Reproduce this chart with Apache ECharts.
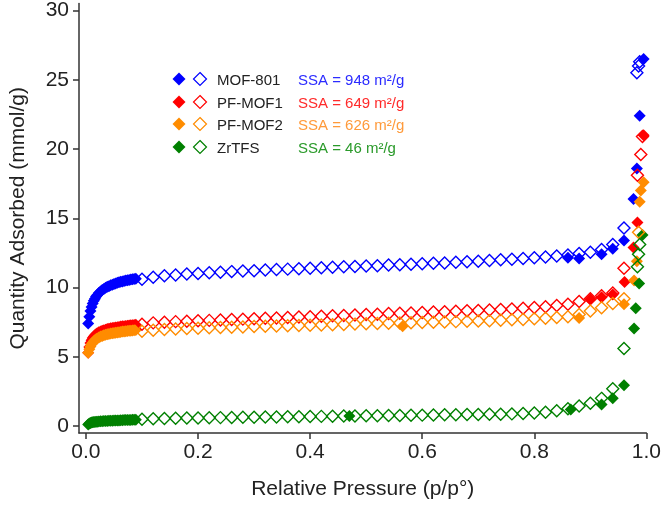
<!DOCTYPE html>
<html>
<head>
<meta charset="utf-8">
<script src="https://cdn.jsdelivr.net/npm/echarts@6/dist/echarts.min.js"></script>
<style>html,body{margin:0;padding:0;background:#fff}#c{width:664px;height:506px}</style>
</head>
<body>
<div id="c"></div>
<script>
// ---- tick labels ----
const xTickValues = [0, 0.2, 0.4, 0.6, 0.8, 1.0];
const xTickLabels = ['0.0', '0.2', '0.4', '0.6', '0.8', '1.0'];
const yTickValues = [0, 5, 10, 15, 20, 25, 30];
const yTickLabels = ['0', '5', '10', '15', '20', '25', '30'];

// ---- legend ----
const names = ['MOF-801', 'PF-MOF1', 'PF-MOF2', 'ZrTFS'];
const ssaTexts = ['SSA = 948 m²/g', 'SSA = 649 m²/g', 'SSA = 626 m²/g', 'SSA = 46 m²/g'];

// ---- shared pressures ----
const lowP = [0.004,0.006,0.008,0.010,0.012,0.014,0.016,0.018,0.020,0.023,0.026,0.029,0.032,0.035,0.038,0.041,
              0.044,0.047,0.050,0.053,0.056,0.059,0.062,0.065,0.068,0.071,0.074,0.077,0.080,0.083,0.086,0.089];
const descMidP = [0.96,0.94,0.92,0.90,0.88,0.86,0.84,0.82,0.80,0.78,0.76,0.74,0.72,0.70,0.68,0.66,0.64,0.62,0.60,
                  0.58,0.56,0.54,0.52,0.50,0.48,0.46,0.44,0.42,0.40,0.38,0.36,0.34,0.32,0.30,0.28,0.26,0.24,0.22,
                  0.20,0.18,0.16,0.14,0.12,0.10];

// ---- MOF-801 ----
const mof801AdsLow = [7.4,7.9,8.3,8.6,8.85,9.05,9.2,9.35,9.45,9.6,9.72,9.82,9.9,9.98,10.05,10.1,
                      10.16,10.21,10.25,10.3,10.34,10.38,10.41,10.44,10.47,10.5,10.53,10.55,10.58,10.6,10.62,10.64];
const mof801AdsHighP = [0.86,0.88,0.92,0.94,0.96,0.977,0.983,0.988,0.995];
const mof801AdsHigh = [12.15,12.1,12.4,12.8,13.4,16.4,18.6,22.4,26.5];
const mof801DesHighP = [0.988,0.986,0.983];
const mof801DesHigh = [26.3,26.0,25.5];
const mof801DesMid = [14.3,13.1,12.75,12.55,12.45,12.35,12.28,12.2,12.15,12.1,12.05,12.0,11.95,11.9,11.86,11.82,
                      11.78,11.75,11.72,11.68,11.65,11.62,11.58,11.55,11.52,11.5,11.46,11.43,11.4,11.36,11.33,11.3,
                      11.26,11.22,11.2,11.15,11.1,11.07,11.02,10.97,10.9,10.85,10.75,10.6];

// ---- PF-MOF1 ----
const pf1AdsLow = [5.3,5.7,6.0,6.2,6.35,6.47,6.56,6.63,6.7,6.77,6.83,6.88,6.92,6.96,7.0,7.03,
                   7.06,7.08,7.1,7.12,7.14,7.16,7.18,7.2,7.21,7.23,7.24,7.26,7.27,7.28,7.3,7.31];
const pf1AdsHighP = [0.90,0.92,0.94,0.961,0.977,0.984,0.995];
const pf1AdsHigh = [9.15,9.3,9.5,10.4,12.9,14.7,21.0];
const pf1DesHighP = [0.993,0.990,0.984];
const pf1DesHigh = [20.9,19.6,18.1];
const pf1DesMid = [11.4,9.6,9.4,9.2,9.0,8.8,8.7,8.62,8.56,8.5,8.46,8.42,8.38,8.35,8.32,8.29,8.26,8.23,8.2,8.17,
                   8.14,8.12,8.08,8.05,8.02,7.99,7.96,7.93,7.9,7.87,7.84,7.81,7.78,7.75,7.72,7.69,7.66,7.63,
                   7.6,7.57,7.54,7.5,7.45,7.35];

// ---- PF-MOF2 ----
const pf2AdsLow = [5.3,5.55,5.75,5.9,6.02,6.12,6.2,6.27,6.33,6.4,6.46,6.51,6.55,6.59,6.62,6.65,
                   6.68,6.7,6.72,6.74,6.76,6.78,6.8,6.82,6.83,6.85,6.86,6.88,6.89,6.9,6.92,6.93];
const pf2AdsHighP = [0.565,0.88,0.96,0.978,0.983,0.988,0.990,0.995];
const pf2AdsHigh = [7.2,7.8,8.8,10.5,11.9,16.2,17.0,17.6];
const pf2DesHighP = [0.986];
const pf2DesHigh = [14.0];
const pf2DesMid = [9.2,8.85,8.55,8.3,8.05,7.9,7.83,7.78,7.74,7.7,7.67,7.64,7.61,7.58,7.56,7.54,7.52,7.5,7.48,7.46,
                   7.44,7.42,7.4,7.38,7.36,7.34,7.32,7.3,7.28,7.26,7.24,7.22,7.2,7.18,7.16,7.14,7.12,7.1,
                   7.07,7.04,7.01,6.97,6.92,6.85];

// ---- ZrTFS ----
const zrAdsLow = [0.12,0.18,0.22,0.25,0.27,0.29,0.3,0.31,0.32,0.33,0.34,0.35,0.36,0.37,0.37,0.38,
                  0.39,0.39,0.4,0.4,0.41,0.41,0.42,0.42,0.43,0.43,0.44,0.44,0.44,0.45,0.45,0.46];
const zrAdsHighP = [0.47,0.865,0.92,0.94,0.96,0.978,0.981,0.987,0.993];
const zrAdsHigh = [0.72,1.2,1.55,2.0,2.95,7.05,8.5,10.3,13.8];
const zrDesHighP = [0.988,0.986,0.984];
const zrDesHigh = [13.1,12.4,11.5];
const zrDesMid = [5.6,2.7,2.0,1.65,1.45,1.25,1.1,1.0,0.94,0.9,0.88,0.86,0.85,0.84,0.83,0.82,0.81,0.8,0.79,0.78,
                  0.77,0.76,0.75,0.74,0.73,0.72,0.71,0.7,0.69,0.68,0.67,0.66,0.65,0.64,0.63,0.62,0.61,0.6,
                  0.59,0.58,0.57,0.55,0.53,0.5];

// ---- colours ----
const markerColors = ['#0000ff', '#ff0000', '#ff8c00', '#008000'];
const textColors = ['#2b2bff', '#ff2a2a', '#ff9a3a', '#2a9a2a'];

function pairs(xs, ys) { return xs.map((x, i) => [x, ys[i]]); }

const materials = [
  {ads: pairs(lowP, mof801AdsLow).concat(pairs(mof801AdsHighP, mof801AdsHigh)),
   des: pairs(mof801DesHighP, mof801DesHigh).concat(pairs(descMidP, mof801DesMid))},
  {ads: pairs(lowP, pf1AdsLow).concat(pairs(pf1AdsHighP, pf1AdsHigh)),
   des: pairs(pf1DesHighP, pf1DesHigh).concat(pairs(descMidP, pf1DesMid))},
  {ads: pairs(lowP, pf2AdsLow).concat(pairs(pf2AdsHighP, pf2AdsHigh)),
   des: pairs(pf2DesHighP, pf2DesHigh).concat(pairs(descMidP, pf2DesMid))},
  {ads: pairs(lowP, zrAdsLow).concat(pairs(zrAdsHighP, zrAdsHigh)),
   des: pairs(zrDesHighP, zrDesHigh).concat(pairs(descMidP, zrDesMid))}
];

const series = [];
materials.forEach((m, i) => {
  series.push({
    type: 'scatter', name: names[i] + ' ads', data: m.ads, symbol: 'diamond', symbolSize: 12,
    itemStyle: {color: markerColors[i], opacity: 1}, z: 2, silent: true, animation: false
  });
});
materials.forEach((m, i) => {
  series.push({
    type: 'scatter', name: names[i] + ' des', data: m.des, symbol: 'diamond', symbolSize: 12,
    itemStyle: {color: 'rgba(255,255,255,0)', borderColor: markerColors[i], borderWidth: 1.4, opacity: 1},
    z: 3, silent: true, animation: false
  });
});

// legend graphics
const rowY = [79, 102, 124, 147];
const graphics = [];
function diamond(cx, cy, r) { return [[cx, cy - r], [cx + r, cy], [cx, cy + r], [cx - r, cy]]; }
names.forEach((n, i) => {
  graphics.push({type: 'polygon', shape: {points: diamond(179, rowY[i], 6.5)},
                 style: {fill: markerColors[i]}});
  graphics.push({type: 'polygon', shape: {points: diamond(200, rowY[i], 6.5)},
                 style: {fill: 'none', stroke: markerColors[i], lineWidth: 1.2}});
  graphics.push({type: 'text', x: 217, y: rowY[i] + 2,
                 style: {text: n, fill: '#222', font: '15px "Liberation Sans"', textVerticalAlign: 'middle'}});
  graphics.push({type: 'text', x: 298, y: rowY[i] + 2,
                 style: {text: ssaTexts[i], fill: textColors[i], font: '15px "Liberation Sans"', textVerticalAlign: 'middle'}});
});

const chart = echarts.init(document.getElementById('c'), null, {renderer: 'canvas'});
chart.setOption({
  animation: false,
  backgroundColor: '#fff',
  grid: {left: 76, right: 14, top: 1, bottom: 73, containLabel: false},
  xAxis: {
    type: 'value', min: -0.0124, max: 1.0,
    name: 'Relative Pressure (p/p°)', nameLocation: 'middle', nameGap: 46,
    nameTextStyle: {fontSize: 21, color: '#222', fontFamily: 'Liberation Sans'},
    axisLine: {show: true, onZero: false, lineStyle: {color: '#333', width: 1.5}},
    axisTick: {show: true, inside: false, length: 6, lineStyle: {color: '#333', width: 1.5}, customValues: xTickValues},
    axisLabel: {fontSize: 21, color: '#222', fontFamily: 'Liberation Sans', margin: 9, customValues: xTickValues,
                formatter: v => { const k = xTickValues.findIndex(t => Math.abs(t - v) < 1e-6); return k >= 0 ? xTickLabels[k] : ''; }},
    splitLine: {show: false}
  },
  yAxis: {
    type: 'value', min: -0.5, max: 30.5,
    name: 'Quantity Adsorbed (mmol/g)', nameLocation: 'middle', nameGap: 50,
    nameTextStyle: {fontSize: 21, color: '#222', fontFamily: 'Liberation Sans'},
    axisLine: {show: true, onZero: false, lineStyle: {color: '#333', width: 1.5}},
    axisTick: {show: true, inside: false, length: 6, lineStyle: {color: '#333', width: 1.5}, customValues: yTickValues},
    axisLabel: {fontSize: 21, color: '#222', fontFamily: 'Liberation Sans', margin: 10, customValues: yTickValues,
                formatter: v => { const k = yTickValues.findIndex(t => Math.abs(t - v) < 1e-6); return k >= 0 ? yTickLabels[k] : ''; }},
    splitLine: {show: false}
  },
  graphic: graphics,
  series: series
});
</script>
</body>
</html>
